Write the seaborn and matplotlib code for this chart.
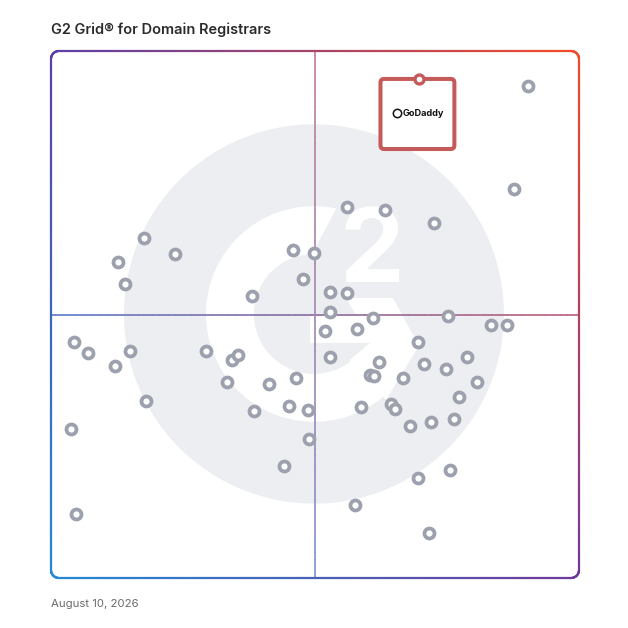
import numpy as np
import pandas as pd
import matplotlib
matplotlib.use("Agg")
import matplotlib.pyplot as plt
import seaborn as sns
from matplotlib.collections import LineCollection
from matplotlib.patches import Circle, Polygon, FancyBboxPatch
from matplotlib.colors import to_rgb

# ---------------- data (scores 0-100) ----------------
title = "G2 Grid\u00ae for Domain Registrars"
date_label = "August 10, 2026"

market_presence = [90.3, 87.7, 56.1, 63.3, 72.5, 49.8, 45.9, 47.7, 52.8, 56.1, 38.1, 52.8, 60.9, 75.1, 83.4, 86.4,
                   17.7, 12.6, 23.5, 14.1,
                   4.4, 7.0, 15.0, 12.2, 18.0, 3.7, 4.7,
                   29.4, 34.2, 35.5, 33.3, 41.2, 46.4, 38.4, 45.0, 48.6, 48.9, 44.1,
                   51.8, 58.0, 69.5, 52.8, 62.2, 60.5, 61.2, 66.7, 70.6, 74.8, 78.7, 80.7, 77.2, 58.7, 64.4,
                   65.2, 67.9, 71.9, 76.4, 69.5, 75.6, 57.6, 71.5]
satisfaction = [93.4, 73.8, 70.4, 69.8, 67.4, 61.7, 62.2, 56.7, 54.3, 54.1, 53.5, 50.5, 49.3, 49.8, 48.1, 48.0,
                64.5, 60.0, 61.4, 55.7,
                44.8, 42.7, 43.0, 40.3, 33.5, 28.2, 12.2,
                43.0, 41.4, 42.4, 37.2, 36.9, 37.9, 31.6, 32.7, 31.8, 26.4, 21.2,
                46.9, 47.2, 44.7, 41.9, 40.9, 38.6, 38.4, 37.9, 40.6, 39.6, 42.0, 37.1, 34.3, 32.4, 33.1,
                32.1, 28.9, 29.6, 30.2, 19.0, 20.5, 13.8, 8.5]

highlight_name = "GoDaddy"
highlight_x = [69.7]
highlight_y = [94.7]

df = pd.DataFrame({"market_presence": market_presence, "satisfaction": satisfaction})
hl = pd.DataFrame({"market_presence": highlight_x, "satisfaction": highlight_y})

# ---------------- figure ----------------
sns.set_style("white")
plt.rcParams["font.family"] = ["Inter", "DejaVu Sans"]

W = H = 628
fig = plt.figure(figsize=(W / 100, H / 100), dpi=100)
fig.patch.set_facecolor("white")
ax = fig.add_axes([51 / W, (H - 578) / H, 528 / W, 527 / H])
ax.set_xlim(0, 100)
ax.set_ylim(0, 100)
ax.axis("off")

PX = 5.28  # pixels per data unit

# ---------------- G2 watermark ----------------
logo_gray = "#eceef1"
cx, cy = 49.8, 50.1
ax.add_patch(Circle((cx, cy), 190 / PX, facecolor=logo_gray, edgecolor="none", zorder=0))
r_out, r_in = 108 / PX, 60 / PX
t_out = np.radians(np.linspace(78, 310, 200))
t_in = np.radians(np.linspace(310, 92, 200))
arc = np.vstack([np.c_[cx + r_out * np.cos(t_out), cy + r_out * np.sin(t_out)],
                 np.c_[cx + r_in * np.cos(t_in), cy + r_in * np.sin(t_in)]])
ax.add_patch(Polygon(arc, closed=True, facecolor="white", edgecolor="none", zorder=0.5))
chev_px = np.array([(-4, -1), (42, -1), (32, 16), (79, 16), (105, -32), (72, -86),
                    (36, -46), (56, -29), (-4, -29)], dtype=float)
chev = np.c_[cx + chev_px[:, 0] / PX, cy + chev_px[:, 1] / PX]
ax.add_patch(Polygon(chev, closed=True, facecolor="white", edgecolor="none", zorder=0.5))
ax.text(cx + 58 / PX, cy + 32 / PX, "2", color="white", fontsize=74, fontweight="bold",
        ha="center", va="baseline", zorder=0.6, family=["Inter", "DejaVu Sans"])

# ---------------- gradient colours ----------------
TL, TR = np.array(to_rgb("#5b3fa9")), np.array(to_rgb("#f44b28"))
BL, BR = np.array(to_rgb("#2389d6")), np.array(to_rgb("#70399a"))


def grad(x, y):
    u, v = x / 100.0, y / 100.0
    c = (1 - u) * v * TL + u * v * TR + (1 - u) * (1 - v) * BL + u * (1 - v) * BR
    return np.clip(c, 0, 1)


def grad_line(xs, ys, lw, alpha=1.0, z=1, lighten=0.0):
    pts = np.c_[xs, ys]
    segs = np.stack([pts[:-1], pts[1:]], axis=1)
    mid = (pts[:-1] + pts[1:]) / 2
    cols = np.array([grad(mx, my) for mx, my in mid])
    cols = cols + (1 - cols) * lighten
    lc = LineCollection(segs, colors=cols, linewidths=lw, alpha=alpha, zorder=z,
                        capstyle="round", joinstyle="round")
    lc.set_clip_on(False)
    ax.add_collection(lc)


# quadrant dividers
n = 300
grad_line(np.linspace(0, 100, n), np.full(n, 50.0), 1.2, alpha=0.85, z=1, lighten=0.15)
grad_line(np.full(n, 50.0), np.linspace(0, 100, n), 1.2, alpha=0.85, z=1, lighten=0.3)

# rounded border
rc = 8 / PX
def corner(cxx, cyy, a0, a1):
    t = np.radians(np.linspace(a0, a1, 30))
    return np.c_[cxx + rc * np.cos(t), cyy + rc * np.sin(t)]
top = np.c_[np.linspace(rc, 100 - rc, 150), np.full(150, 100.0)]
right = np.c_[np.full(150, 100.0), np.linspace(100 - rc, rc, 150)]
bottom = np.c_[np.linspace(100 - rc, rc, 150), np.full(150, 0.0)]
left = np.c_[np.full(150, 0.0), np.linspace(rc, 100 - rc, 150)]
path = np.vstack([top, corner(100 - rc, 100 - rc, 90, 0), right, corner(100 - rc, rc, 0, -90),
                  bottom, corner(rc, rc, 270, 180), left, corner(rc, 100 - rc, 180, 90)])
grad_line(path[:, 0], path[:, 1], 1.6, z=2)

# ---------------- products ----------------
sns.scatterplot(data=df, x="market_presence", y="satisfaction", ax=ax, marker="o", s=52,
                facecolor="white", edgecolor="#9ca1ad", linewidth=2.7, zorder=3, legend=False)

# highlighted product box
box_col = "#c55a5b"
gx, gy = highlight_x[0], highlight_y[0]
bw, bh = 14.0, 13.3
ax.add_patch(FancyBboxPatch((gx - bw / 2 - 0.3, gy - bh), bw, bh,
                            boxstyle="round,pad=0,rounding_size=0.7",
                            facecolor="white", edgecolor=box_col, linewidth=2.9, zorder=4))
sns.scatterplot(data=hl, x="market_presence", y="satisfaction", ax=ax, marker="o", s=42,
                facecolor="white", edgecolor=box_col, linewidth=2.4, zorder=5, legend=False)
ax.plot([gx - 4.2], [gy - bh / 2 + 0.1], marker="o", ms=6, mfc="white", mec="#111111",
        mew=1.1, zorder=6, clip_on=False)
ax.text(gx - 3.1, gy - bh / 2, highlight_name, fontsize=6.6, fontweight="bold", color="#111111",
        ha="left", va="center", zorder=6)

ax.set_xlabel("")
ax.set_ylabel("")

# ---------------- texts ----------------
fig.text(51 / W, 1 - 30 / H, title, fontsize=10.5, fontweight="semibold", color="#2b2b2b",
         ha="left", va="center")
fig.text(51 / W, 1 - 604 / H, date_label, fontsize=8.2, color="#6b6b6b", ha="left", va="center")

fig.savefig("out.png", dpi=100, facecolor="white")
